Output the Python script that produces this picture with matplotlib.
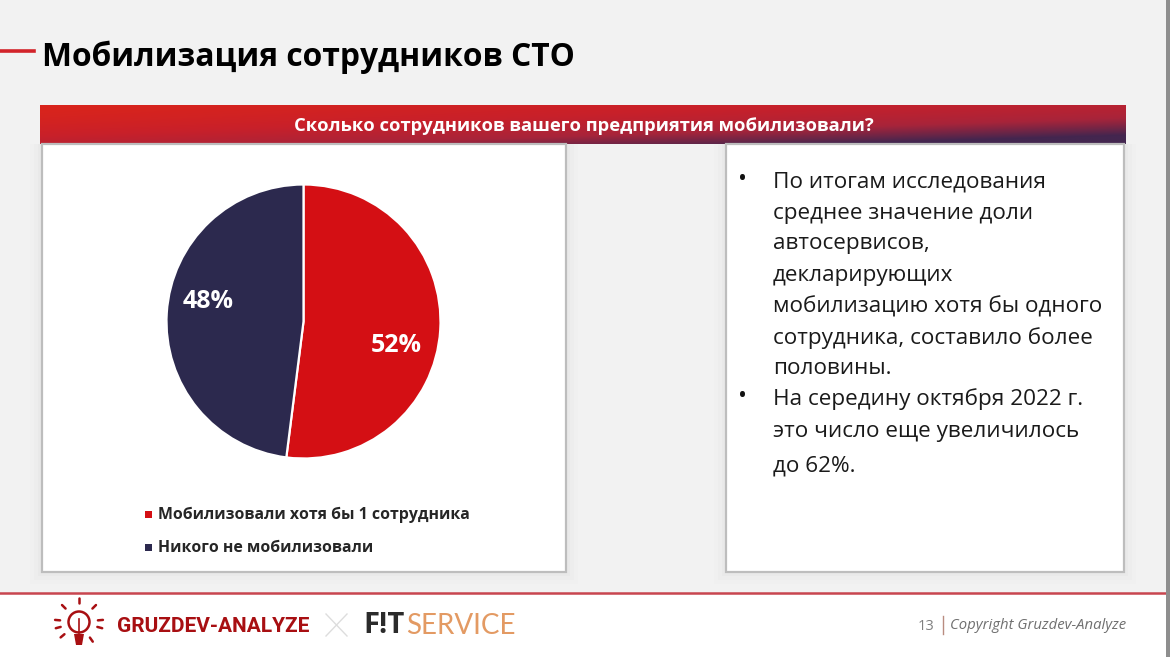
import numpy as np
import matplotlib
matplotlib.use("Agg")
import matplotlib.pyplot as plt
from matplotlib.patches import Rectangle, Circle, Polygon
from matplotlib.colors import LinearSegmentedColormap

plt.rcParams['font.family'] = ['Open Sans', 'DejaVu Sans']

title = "Мобилизация сотрудников СТО"
question = "Сколько сотрудников вашего предприятия мобилизовали?"
categories = ["Мобилизовали хотя бы 1 сотрудника", "Никого не мобилизовали"]
values = [52, 48]
value_labels = ["52%", "48%"]
colors = ["#D40F14", "#2C294E"]
body_lines = [
    ("•", "По итогам исследования"),
    ("", "среднее значение доли"),
    ("", "автосервисов,"),
    ("", "декларирующих"),
    ("", "мобилизацию хотя бы одного"),
    ("", "сотрудника, составило более"),
    ("", "половины."),
    ("•", "На середину октября 2022 г."),
    ("", "это число еще увеличилось"),
    ("", "до 62%."),
]
body_y = [181, 212, 243, 275, 306, 337, 367, 398, 431, 465]

W, H = 1170, 657
fig = plt.figure(figsize=(W / 100, H / 100), dpi=100, facecolor="#F2F2F2")


def overlay(z):
    a = fig.add_axes([0, 0, 1, 1], zorder=z)
    a.set_xlim(0, W)
    a.set_ylim(H, 0)
    a.axis("off")
    a.patch.set_visible(False)
    return a


bg = overlay(0)
fg = overlay(2)

# footer
bg.add_patch(Rectangle((0, 593), W, 64, fc="white", ec="none", zorder=1))
bg.plot([0, 1166], [592.5, 592.5], color="#C8454F", lw=1.8, zorder=2)
bg.add_patch(Rectangle((1166, 0), 4, H, fc="#8E8E8E", ec="none", zorder=5))

# title
bg.plot([0, 34], [50.5, 50.5], color="#D2232A", lw=2.6, zorder=2)
fg.text(42, 57.5, title, fontsize=22.9, fontweight="bold", color="black", va="center", ha="left")

# banner gradient
gx, gy = np.meshgrid(np.linspace(0, 1, 500), np.linspace(0, 1, 40))
grad = np.clip(0.62 * gx + 0.55 * gy ** 1.5, 0, 1) + 0.25 * gy * gx
cmap = LinearSegmentedColormap.from_list("b", ["#D9241C", "#C8202A", "#A8243A", "#43264F"])
bg.imshow(grad, extent=(40, 1126, 144, 105), cmap=cmap, vmin=0, vmax=1.2, aspect="auto", zorder=2)
bg.set_xlim(0, W)
bg.set_ylim(H, 0)
fg.text(584, 126, question, fontsize=13.25, fontweight="bold", color="white", ha="center", va="center")

# panels with soft shadow
for (x0, y0, x1, y1) in [(42, 144, 566, 572), (726, 144, 1124, 572)]:
    for i, c in enumerate(["#F0F0F0", "#EDEDED", "#E9E9E9"]):
        m = 12 - 4 * i
        bg.add_patch(Rectangle((x0 - m, y0), x1 - x0 + 2 * m, y1 - y0 + m, fc=c, ec="none", zorder=1.2))
    bg.add_patch(Rectangle((x0, y0), x1 - x0, y1 - y0, fc="white", ec="#BDBDBD", lw=1.6, zorder=2.5))

# pie
R = 137
cx, cy = 303.5, 321.5
ax = fig.add_axes([(cx - R) / W, 1 - (cy + R) / H, 2 * R / W, 2 * R / H], zorder=1)
wedges, _ = ax.pie(values, colors=colors, startangle=90, counterclock=False, radius=1.0,
                   wedgeprops=dict(edgecolor="white", linewidth=1.6))
ax.set_xlim(-1.0, 1.0)
ax.set_ylim(-1.0, 1.0)
ax.set_aspect("equal")
ax.axis("off")
for lab, x, y in zip(value_labels, [396.5, 208.5], [345, 302]):
    fg.text(x, y, lab, fontsize=18, fontweight="bold", color="white", ha="center", va="center")

# legend
for cat, col, y in zip(categories, colors, [514, 547]):
    fg.add_patch(Rectangle((145, y - 3.5), 7, 7, fc=col, ec="none"))
    fg.text(158, y + 1, cat, fontsize=11.45, fontweight="bold", color="#262626", ha="left", va="center")

# body text
for (b, line), y in zip(body_lines, body_y):
    if b:
        fg.text(742, y - 1, b, fontsize=17, color="#111111", ha="center", va="center")
    fg.text(773, y + 1, line, fontsize=16.2, color="#1A1A1A", ha="left", va="center")

# footer logo
red = "#A80F12"
lx, ly = 79, 625
for ang in [-90, -135, -45, -175, -5, 165, 15, 140, 55]:
    a = np.deg2rad(ang)
    fg.plot([lx + 19 * np.cos(a), lx + 24 * np.cos(a)],
            [ly - 3 + 19 * np.sin(a), ly - 3 + 24 * np.sin(a)], color=red, lw=1.8, solid_capstyle="round")
fg.add_patch(Circle((lx, ly - 3), 10.5, fc="none", ec=red, lw=1.8))
fg.add_patch(Polygon([[lx - 5, ly + 9], [lx + 5, ly + 9], [lx + 3, ly + 20], [lx - 3, ly + 20]], fc=red, ec="none"))
fg.plot([lx, lx], [ly - 6, ly + 8], color=red, lw=1.2)
fg.text(117, 626.5, "GRUZDEV-ANALYZE", fontsize=15, fontweight="bold", color=red, ha="left", va="center",
        family=["Roboto", "DejaVu Sans"])
fg.plot([326, 347], [614, 636], color="#DDDDDD", lw=1)
fg.plot([326, 347], [636, 614], color="#DDDDDD", lw=1)
fg.text(363, 625.5, "F!T", fontsize=21, fontweight="bold", color="#2B2B2B", ha="left", va="center")
fg.text(406, 625.5, "SERVICE", fontsize=20, fontweight="normal", color="#E39A63", ha="left", va="center",
        family=["Lato", "DejaVu Sans"])

fg.text(926, 626, "13", fontsize=10.5, color="#7F7F7F", ha="center", va="center")
fg.plot([943, 943], [616, 634], color="#B98C80", lw=1)
fg.text(950, 625.5, "Copyright Gruzdev-Analyze", fontsize=10.75, style="italic", color="#6F6F6F", ha="left", va="center")

fig.savefig("out.png", dpi=100, facecolor=fig.get_facecolor())
